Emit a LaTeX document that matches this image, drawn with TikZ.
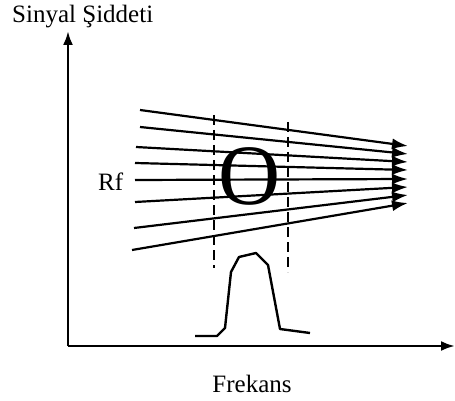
\documentclass[tikz,border=0pt]{standalone}
\usepackage{fontspec}
\setmainfont{Liberation Serif}
\usetikzlibrary{arrows.meta}
\begin{document}
\begin{tikzpicture}[x=1pt,y=-1pt,
  ax/.style={line width=2.6pt,-{Latex[length=14pt,width=10pt]}},
  ray/.style={line width=2.2pt,-{Latex[length=16pt,width=11pt]}},
  dsh/.style={line width=2pt,dash pattern=on 10pt off 5pt},
  pulse/.style={line width=2.4pt,line join=round},
  lbl/.style={font=\fontsize{25}{28}\selectfont,inner sep=0pt}]
\useasboundingbox (0,0) rectangle (455,401);
% axes
\coordinate (o) at (68,346);
\coordinate (ytip) at (68,31);
\coordinate (xtip) at (455,346);
\draw[ax] (o) -- (ytip);
\draw[ax] (o) -- (xtip);
\node[lbl,anchor=base west] (ylab) at (12,23) {Sinyal Şiddeti};
\node[lbl,anchor=base] (xlab) at (252,392) {Frekans};
\node[lbl,anchor=base west] (rf) at (98,190) {Rf};
% dashed lines
\coordinate (d1a) at (214,115);
\coordinate (d1b) at (214,268);
\coordinate (d2a) at (288,122);
\coordinate (d2b) at (288,272);
\draw[dsh] (d1a) -- (d1b);
\draw[dsh] (d2a) -- (d2b);
% converging rays
\foreach \i/\xs/\ys/\ye in {1/140/110/146,2/140/127/154,3/136/147/162,4/135/163/170,5/135/180/179,6/135/202/187,7/134/228/195,8/132/250/203}{
  \coordinate (s\i) at (\xs,\ys);
  \coordinate (e\i) at (408,\ye);
  \draw[ray] (s\i) -- (e\i);
}
\node[font=\fontsize{86}{90}\selectfont,inner sep=0pt,anchor=base] (big) at (250,204) {O};
% pulse
\draw[pulse] (195,336) -- (217,336) -- (225,328) -- (231,272) -- (239,257) -- (256,253) -- (268,265) -- (280,329) -- (310,333);
\end{tikzpicture}
\end{document}
